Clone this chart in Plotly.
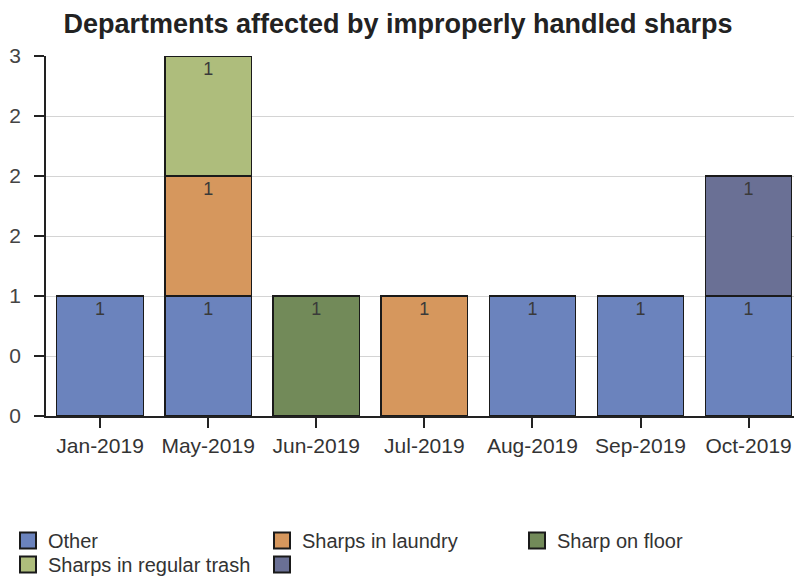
import plotly.graph_objects as go

categories = ["Jan-2019", "May-2019", "Jun-2019", "Jul-2019", "Aug-2019", "Sep-2019", "Oct-2019"]
series_names = ["Other", "Sharps in laundry", "Sharp on floor", "Sharps in regular trash", ""]
other = [1, 1, None, None, 1, 1, 1]
laundry = [None, 1, None, 1, None, None, None]
floor = [None, None, 1, None, None, None, None]
trash = [None, 1, None, None, None, None, None]
unnamed = [None, None, None, None, None, None, 1]
series_values = [other, laundry, floor, trash, unnamed]
colors = ["#6b83bd", "#d6975d", "#728a59", "#aebd7c", "#6a7095"]
legend_groups = ["legend", "legend", "legend3", "legend2", "legend2"]
ytick_vals = [0, 0.5, 1, 1.5, 2, 2.5, 3]
ytick_text = ["0", "0", "1", "2", "2", "2", "3"]

FONT = "Liberation Sans, Arial, sans-serif"
W, H = 794, 574
OFF = 8  # page body margin offset (screen = figure + 8)
COL = 254  # legend column pitch in px

fig = go.Figure()
for name, vals, col in zip(series_names, series_values, colors):
    fig.add_trace(go.Bar(
        x=categories, y=vals, name=name,
        marker=dict(color=col, line=dict(color="#1a1a1a", width=1.3)),
        text=[("1" if v is not None else "") for v in vals],
        textposition="inside", insidetextanchor="end",
        textfont=dict(family=FONT, size=18, color="#3a3a3a"),
        textangle=0,
        showlegend=False,
    ))
# legend entries (square swatches like the reference)
for name, col, lg in zip(series_names, colors, legend_groups):
    fig.add_trace(go.Scatter(
        x=[None], y=[None], mode="markers", name=name, legend=lg,
        marker=dict(symbol="square", size=16, color=col,
                    line=dict(color="#1a1a1a", width=2)),
        showlegend=True, hoverinfo="skip",
    ))

legend_common = dict(orientation="h", xref="container", yref="container",
                     xanchor="left", yanchor="top",
                     entrywidth=COL - 45, entrywidthmode="pixels", traceorder="normal",
                     font=dict(family=FONT, size=20, color="#333"),
                     itemsizing="trace", bgcolor="rgba(0,0,0,0)")

row1_y = 1 - (521 - OFF) / H
row2_y = 1 - (545 - OFF) / H

fig.update_layout(
    barmode="stack",
    bargap=0.2,
    width=W, height=H,
    margin=dict(l=46 - OFF, r=W - (794 - OFF), t=56 - OFF, b=H - (416 - OFF), pad=0),
    paper_bgcolor="white", plot_bgcolor="white",
    title=dict(text="<b>Departments affected by improperly handled sharps</b>",
               x=(398 - OFF) / W, xanchor="center", xref="container",
               y=1 - (24 - OFF) / H, yanchor="middle", yref="container",
               font=dict(family=FONT, size=27, color="#222222")),
    xaxis=dict(range=[-0.5, 6.42], showline=True, linecolor="#222", linewidth=1.5,
               ticks="outside", ticklen=10, tickcolor="#222", tickwidth=1.5,
               tickfont=dict(family=FONT, size=21, color="#333"), showgrid=False,
               automargin=False),
    yaxis=dict(range=[0, 3], tickvals=ytick_vals, ticktext=ytick_text,
               showline=True, linecolor="#222", linewidth=1.5,
               ticks="outside", ticklen=10, tickcolor="#222", tickwidth=1.5,
               ticklabelstandoff=9,
               tickfont=dict(family=FONT, size=21, color="#444"),
               showgrid=True, gridcolor="#d4d4d4", gridwidth=1.2, zeroline=False,
               automargin=False),
    legend=dict(legend_common, x=0, y=row1_y),
    legend3=dict(legend_common, x=(2 * COL + 1) / W, y=row1_y),
    legend2=dict(legend_common, x=0, y=row2_y),
    uniformtext=dict(mode="show", minsize=10),
)
fig.write_html("out.html")
